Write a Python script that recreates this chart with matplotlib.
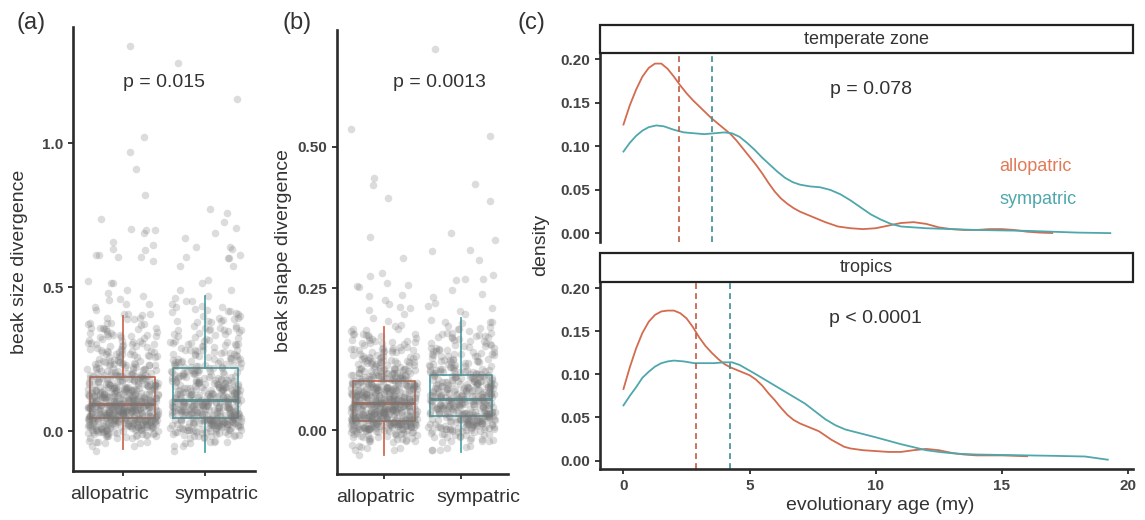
import numpy as np
import matplotlib
matplotlib.use("Agg")
import matplotlib.pyplot as plt
from matplotlib.patches import Rectangle

plt.rcParams['font.family'] = ['Liberation Sans', 'DejaVu Sans']

RED = '#D36B4F'
TEAL = '#4FA7AC'
RED_DARK = '#BF5A43'
TEAL_DARK = '#3C8E94'
INK = '#333333'

groups = ['allopatric', 'sympatric']

# ---- panel (a): beak size divergence, binned core + individual outliers ----
size_bins = [-0.06, -0.04, -0.02, 0.00, 0.02, 0.04, 0.06, 0.08, 0.10, 0.12, 0.14, 0.16,
             0.18, 0.20, 0.22, 0.24, 0.26, 0.28, 0.30, 0.32, 0.34, 0.36, 0.38, 0.40,
             0.42, 0.44, 0.46]
size_allo_counts = [3, 6, 14, 28, 45, 55, 58, 55, 48, 42, 36, 30, 26, 22, 18, 16, 14, 12,
                    11, 10, 9, 8, 7, 6, 0, 0, 0]
size_symp_counts = [3, 6, 12, 22, 35, 40, 38, 38, 36, 30, 27, 24, 21, 19, 16, 14, 12, 11,
                    10, 9, 8, 8, 7, 6, 5, 4, 4]
size_allo_out = [0.42, 0.43, 0.44, 0.44, 0.455, 0.46, 0.47, 0.48, 0.49, 0.514, 0.514, 0.52,
                 0.592, 0.603, 0.603, 0.61, 0.61, 0.63, 0.634, 0.645, 0.656, 0.687, 0.697,
                 0.70, 0.703, 0.738, 0.819, 0.912, 0.969, 1.021, 1.338]
size_symp_out = [0.49, 0.49, 0.514, 0.525, 0.575, 0.575, 0.60, 0.60, 0.606, 0.613, 0.634,
                 0.641, 0.641, 0.672, 0.687, 0.704, 0.728, 0.756, 0.773, 1.153, 1.279]
# box stats: whislo, q1, med, q3, whishi
size_box = [(-0.064, 0.046, 0.093, 0.188, 0.40), (-0.072, 0.044, 0.107, 0.218, 0.47)]

# ---- panel (b): beak shape divergence ----
shape_bins = [-0.04, -0.03, -0.02, -0.01, 0.00, 0.01, 0.02, 0.03, 0.04, 0.05, 0.06, 0.07,
              0.08, 0.09, 0.10, 0.11, 0.12, 0.13, 0.14, 0.15, 0.16, 0.17, 0.18, 0.19]
shape_allo_counts = [3, 5, 9, 16, 30, 50, 52, 50, 48, 46, 42, 38, 34, 28, 24, 20, 17, 14,
                     12, 10, 8, 7, 6, 0]
shape_symp_counts = [2, 4, 7, 12, 20, 28, 32, 33, 33, 32, 30, 28, 26, 22, 19, 16, 14, 12,
                     10, 9, 8, 7, 6, 5]
shape_allo_out = [0.193, 0.198, 0.205, 0.212, 0.216, 0.218, 0.222, 0.229, 0.236, 0.238,
                  0.252, 0.254, 0.256, 0.259, 0.272, 0.278, 0.303, 0.341, 0.409, 0.432,
                  0.445, 0.531]
shape_symp_out = [0.205, 0.21, 0.215, 0.219, 0.225, 0.234, 0.24, 0.248, 0.265, 0.266,
                  0.267, 0.274, 0.30, 0.316, 0.318, 0.335, 0.347, 0.404, 0.434, 0.519, 0.672]
shape_box = [(-0.044, 0.0165, 0.047, 0.087, 0.182), (-0.038, 0.025, 0.054, 0.098, 0.197)]

# ---- panel (c): density of evolutionary age ----
temp_allo_x = [0, 0.25, 0.5, 0.75, 1.0, 1.25, 1.5, 1.75, 2.0, 2.25, 2.5, 2.75, 3.0, 3.25,
               3.5, 3.75, 4.0, 4.25, 4.5, 4.75, 5.0, 5.25, 5.5, 5.75, 6.0, 6.25, 6.5, 6.75,
               7.0, 7.5, 8.0, 8.5, 9.0, 9.5, 10.0, 10.5, 11.0, 11.5, 12.0, 12.5, 13.0,
               13.5, 14.0, 14.5, 15.0, 15.5, 16.0, 16.5, 17.0]
temp_allo_y = [0.125, 0.147, 0.165, 0.180, 0.190, 0.195, 0.195, 0.189, 0.180, 0.170, 0.161,
               0.153, 0.146, 0.139, 0.132, 0.126, 0.120, 0.114, 0.106, 0.097, 0.088, 0.079,
               0.069, 0.058, 0.048, 0.040, 0.034, 0.029, 0.025, 0.019, 0.013, 0.008, 0.006,
               0.005, 0.006, 0.009, 0.012, 0.013, 0.011, 0.007, 0.005, 0.004, 0.004, 0.005,
               0.005, 0.004, 0.002, 0.001, 0.0005]
temp_symp_x = [0, 0.25, 0.5, 0.75, 1.0, 1.3, 1.6, 2.0, 2.4, 2.8, 3.2, 3.6, 4.0, 4.3, 4.6,
               4.9, 5.2, 5.5, 5.8, 6.1, 6.4, 6.7, 7.0, 7.4, 7.8, 8.2, 8.6, 9.0, 9.4, 9.8,
               10.2, 10.6, 11.0, 11.5, 12.0, 13.0, 14.0, 15.0, 16.0, 17.0, 18.0, 19.3]
temp_symp_y = [0.094, 0.104, 0.112, 0.118, 0.122, 0.124, 0.123, 0.119, 0.116, 0.115, 0.114,
               0.115, 0.116, 0.115, 0.111, 0.104, 0.096, 0.087, 0.079, 0.071, 0.064, 0.059,
               0.056, 0.054, 0.053, 0.050, 0.045, 0.038, 0.030, 0.022, 0.016, 0.011, 0.008,
               0.007, 0.006, 0.005, 0.004, 0.0035, 0.003, 0.002, 0.001, 0.0004]
trop_allo_x = [0, 0.25, 0.5, 0.75, 1.0, 1.25, 1.5, 1.75, 2.0, 2.25, 2.5, 2.75, 3.0, 3.25,
               3.5, 3.75, 4.0, 4.25, 4.5, 4.75, 5.0, 5.25, 5.5, 5.75, 6.0, 6.25, 6.5, 6.75,
               7.0, 7.25, 7.5, 7.75, 8.0, 8.25, 8.5, 8.75, 9.0, 9.5, 10.0, 10.5, 11.0, 11.5,
               12.0, 12.5, 13.0, 13.5, 14.0, 15.0, 16.0]
trop_allo_y = [0.083, 0.108, 0.130, 0.148, 0.161, 0.169, 0.173, 0.174, 0.174, 0.171, 0.165,
               0.155, 0.143, 0.133, 0.125, 0.118, 0.112, 0.108, 0.105, 0.102, 0.099, 0.094,
               0.087, 0.078, 0.070, 0.061, 0.053, 0.047, 0.043, 0.040, 0.037, 0.034, 0.029,
               0.024, 0.020, 0.016, 0.014, 0.012, 0.011, 0.010, 0.010, 0.012, 0.0135, 0.012,
               0.009, 0.007, 0.006, 0.006, 0.005]
trop_symp_x = [0, 0.25, 0.5, 0.75, 1.0, 1.25, 1.5, 1.75, 2.0, 2.4, 2.8, 3.2, 3.6, 4.0, 4.3,
               4.6, 4.9, 5.2, 5.6, 6.0, 6.4, 6.8, 7.2, 7.6, 8.0, 8.4, 8.8, 9.2, 9.6, 10.0,
               10.5, 11.0, 11.5, 12.0, 12.6, 13.2, 14.0, 15.0, 16.0, 17.0, 18.3, 19.2]
trop_symp_y = [0.064, 0.075, 0.085, 0.096, 0.103, 0.109, 0.113, 0.115, 0.116, 0.115, 0.113,
               0.113, 0.113, 0.114, 0.114, 0.111, 0.106, 0.101, 0.094, 0.087, 0.080, 0.073,
               0.066, 0.057, 0.048, 0.041, 0.036, 0.033, 0.030, 0.027, 0.023, 0.019, 0.0155,
               0.012, 0.0097, 0.008, 0.007, 0.0065, 0.006, 0.0055, 0.0047, 0.001]
temp_means = [2.2, 3.52]
trop_means = [2.88, 4.21]


def hash01(k, seed):
    # deterministic scatter used only for jitter placement
    v = np.sin(k * 12.9898 + seed * 78.233) * 43758.5453
    return v - np.floor(v)


def group_values(bins, counts, outliers, bin_w):
    core = np.repeat(bins, counts).astype(float)
    k = np.arange(len(core))
    core = core + (hash01(k, 1.7) - 0.5) * bin_w
    return np.concatenate([core, outliers])


def box_panel(ax, bins, counts_list, outs_list, box, bin_w, width, label_x):
    stats = []
    for (lo, q1, med, q3, hi), g in zip(box, groups):
        stats.append(dict(whislo=lo, q1=q1, med=med, q3=q3, whishi=hi, fliers=[], label=g))
    art = ax.bxp(stats, positions=[1, 2], widths=width, showfliers=False, showcaps=False,
                 boxprops=dict(linewidth=1.3), whiskerprops=dict(linewidth=1.3),
                 medianprops=dict(linewidth=2.2))
    for i, col in enumerate([RED, TEAL]):
        art['boxes'][i].set_color(col)
        art['medians'][i].set_color(col)
        for w in art['whiskers'][2 * i:2 * i + 2]:
            w.set_color(col)
    for a in art['boxes'] + art['medians'] + art['whiskers']:
        a.set_zorder(1)
    for pos, counts, outs, seed in zip([1, 2], counts_list, outs_list, [3.1, 5.3]):
        vals = group_values(bins, counts, outs, bin_w)
        xs = pos + (hash01(np.arange(len(vals)), seed) - 0.5) * 0.86
        ax.scatter(xs, vals, s=30, color='#777777', alpha=0.25, linewidths=0, zorder=2)
    ax.set_xlim(0.4, 2.6)
    ax.set_xticks([1, 2])
    ax.set_xticklabels([])
    for lx, g in zip(label_x, groups):
        ax.text(lx, -0.052, g, transform=ax.get_xaxis_transform(), ha='center',
                va='center', fontsize=14, color=INK)


def style_axis(ax, bottom=True):
    for s in ['top', 'right']:
        ax.spines[s].set_visible(False)
    ax.spines['left'].set_linewidth(1.9)
    ax.spines['left'].set_color('#2b2b2b')
    if bottom:
        ax.spines['bottom'].set_linewidth(1.9)
        ax.spines['bottom'].set_color('#2b2b2b')
    else:
        ax.spines['bottom'].set_visible(False)
        ax.tick_params(axis='x', bottom=False, labelbottom=False)
    ax.tick_params(length=3.5, width=1.3, color='#2b2b2b')
    for lab in ax.get_yticklabels():
        lab.set_fontsize(11)
        lab.set_fontweight('bold')
        lab.set_color('#444444')
    ax.patch.set_alpha(0)


W, H = 1145, 520
fig = plt.figure(figsize=(W / 100, H / 100), dpi=100)


def rect(x0, y0, x1, y1):
    return [x0 / W, 1 - y1 / H, (x1 - x0) / W, (y1 - y0) / H]


# panel (a)
ax_a = fig.add_axes(rect(73, 27, 255, 471))
box_panel(ax_a, size_bins, [size_allo_counts, size_symp_counts],
          [size_allo_out, size_symp_out], size_box, 0.02, 0.78, [0.84, 2.13])
ax_a.set_ylim(-0.139, 1.404)
ax_a.set_yticks([0, 0.5, 1.0])
ax_a.set_yticklabels(['0.0', '0.5', '1.0'])
ax_a.text(1.5, 1.21, 'p = 0.015', ha='center', va='center', fontsize=14, color=INK)
style_axis(ax_a)

# panel (b)
ax_b = fig.add_axes(rect(337, 30, 508, 474))
box_panel(ax_b, shape_bins, [shape_allo_counts, shape_symp_counts],
          [shape_allo_out, shape_symp_out], shape_box, 0.01, 0.8, [0.9, 2.22])
ax_b.set_ylim(-0.0776, 0.706)
ax_b.set_yticks([0, 0.25, 0.5])
ax_b.set_yticklabels(['0.00', '0.25', '0.50'])
ax_b.text(1.72, 0.614, 'p = 0.0013', ha='center', va='center', fontsize=14, color=INK)
style_axis(ax_b)

# panel (c)
ax_t = fig.add_axes(rect(600, 54, 1133, 242))
ax_r = fig.add_axes(rect(600, 283, 1133, 469))
facets = [
    (ax_t, temp_allo_x, temp_allo_y, temp_symp_x, temp_symp_y, temp_means,
     'p = 0.078', 9.8),
    (ax_r, trop_allo_x, trop_allo_y, trop_symp_x, trop_symp_y, trop_means,
     'p < 0.0001', 10.0),
]
for ax, ax_x, ax_y, sx, sy, means, ptxt, px in facets:
    ax.plot(ax_x, ax_y, color=RED, lw=1.3)
    ax.plot(sx, sy, color=TEAL, lw=1.3)
    ax.axvline(means[0], color=RED_DARK, lw=1.2, dashes=(3.5, 2.5))
    ax.axvline(means[1], color=TEAL_DARK, lw=1.2, dashes=(3.5, 2.5))
    ax.set_xlim(-0.93, 20.2)
    ax.set_ylim(-0.0098, 0.206)
    ax.set_yticks([0, 0.05, 0.10, 0.15, 0.20])
    ax.set_yticklabels(['0.00', '0.05', '0.10', '0.15', '0.20'])
    ax.set_xticks([0, 5, 10, 15, 20])
    ax.text(px, 0.165, ptxt, ha='center', va='center', fontsize=14, color=INK)
    style_axis(ax, bottom=(ax is ax_r))

for lab in ax_r.get_xticklabels():
    lab.set_fontsize(11)
    lab.set_fontweight('bold')
    lab.set_color('#444444')

ax_t.text(14.9, 0.077, 'allopatric', color='#E07A58', fontsize=13, ha='left', va='center')
ax_t.text(14.9, 0.0385, 'sympatric', color=TEAL, fontsize=13, ha='left', va='center')

# facet strips
for (y0, y1), title in zip([(25, 53), (253, 282)], ['temperate zone', 'tropics']):
    r = rect(600, y0, 1133, y1)
    fig.patches.append(Rectangle((r[0], r[1]), r[2], r[3], transform=fig.transFigure,
                                 facecolor='white', edgecolor='#222222', lw=1.6))
    fig.text(r[0] + r[2] / 2, r[1] + r[3] / 2, title, ha='center', va='center',
             fontsize=13, color=INK)

# labels
fig.text(20 / W, 1 - 262 / H, 'beak size divergence', rotation=90, ha='center',
         va='center', fontsize=14, color=INK)
fig.text(284 / W, 1 - 251 / H, 'beak shape divergence', rotation=90, ha='center',
         va='center', fontsize=14, color=INK)
fig.text(541 / W, 1 - 245 / H, 'density', rotation=90, ha='center', va='center',
         fontsize=14, color=INK)
fig.text(880 / W, 1 - 505 / H, 'evolutionary age (my)', ha='center', va='center',
         fontsize=14, color=INK)
fig.text(31 / W, 1 - 23 / H, '(a)', ha='center', va='center', fontsize=17, color=INK)
fig.text(297 / W, 1 - 23 / H, '(b)', ha='center', va='center', fontsize=17, color=INK)
fig.text(531 / W, 1 - 23 / H, '(c)', ha='center', va='center', fontsize=17, color=INK)

fig.savefig('out.png', dpi=100)
